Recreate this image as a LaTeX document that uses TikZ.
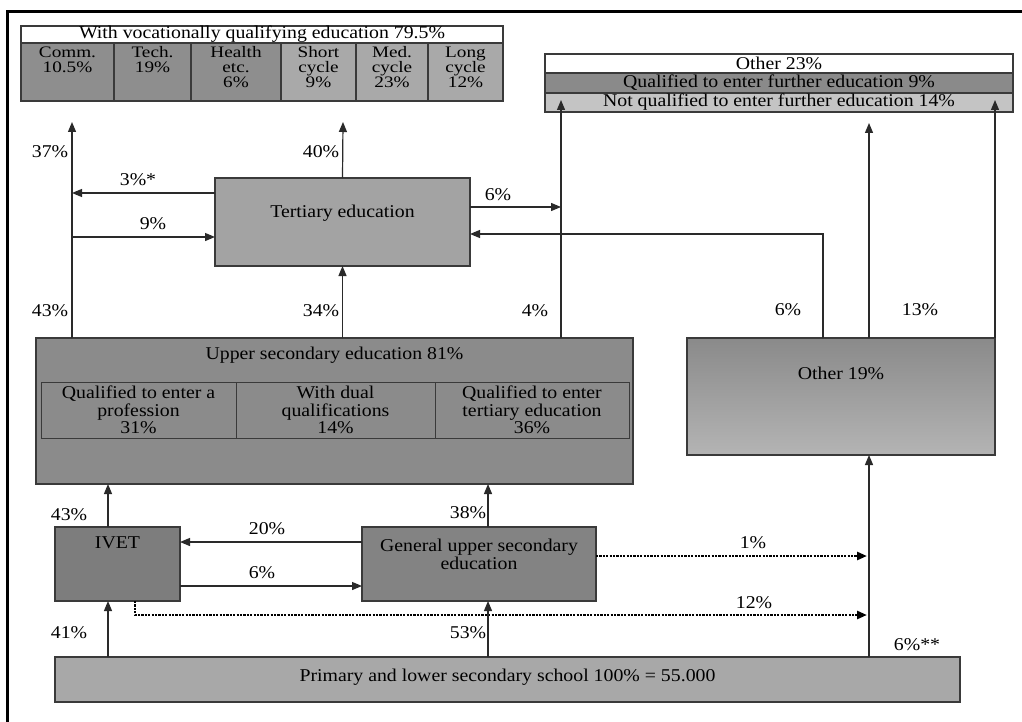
\documentclass[tikz,border=0pt]{standalone}
\usepackage{fontspec}
\setmainfont{Liberation Serif}[FakeStretch=1.1]
\newfontfamily\cellfam{Liberation Serif}[FakeStretch=1.2]
\usetikzlibrary{arrows.meta,calc}
\definecolor{lines}{HTML}{2A2A2A}
\definecolor{bline}{HTML}{3A3A3A}
\definecolor{cdark}{HTML}{8E8E8E}
\definecolor{clight}{HTML}{A9A9A9}
\definecolor{terf}{HTML}{A3A3A3}
\definecolor{uppf}{HTML}{8B8B8B}
\definecolor{othtop}{HTML}{8A8A8A}
\definecolor{othbot}{HTML}{B4B4B4}
\definecolor{ivetf}{HTML}{7D7D7D}
\definecolor{genf}{HTML}{838383}
\definecolor{primf}{HTML}{A8A8A8}
\definecolor{otwo}{HTML}{8A8A8A}
\definecolor{othree}{HTML}{C4C4C4}
\newcommand\mfont{\fontsize{18}{17.5}\selectfont}
\newcommand\ctxt[2]{\parbox[c][58pt][t]{#1}{\centering\cellfam\fontsize{16}{15}\selectfont\rule{0pt}{15pt}#2}}
\begin{document}
\begin{tikzpicture}[x=1pt,y=-1pt,
  box/.style={draw=bline, line width=1.3pt, inner sep=0pt, outer sep=0pt, anchor=north west, font=\mfont, text=black},
  arr/.style={draw=lines, line width=1.2pt, -{Triangle[length=10pt,width=8pt]}},
  dots/.style={draw=black, line width=2.6pt, dash pattern=on 2.2pt off 1.2pt},
  lbl/.style={font=\mfont, inner sep=0pt}]
\useasboundingbox (0,0) rectangle (1022,722);
\fill[white] (0,0) rectangle (1022,722);
\draw[line width=3pt, black] (7,722) -- (7,12) -- (1022,12);

% top-left table
\node[box, fill=white, minimum width=482pt, minimum height=17pt] (hdr) at (21,26) {With vocationally qualifying education 79.5\%};
\node[box, fill=cdark, minimum width=93pt, minimum height=58pt] (c1) at (21,43) {\ctxt{93pt}{Comm.\\10.5\%}};
\node[box, fill=cdark, minimum width=77pt, minimum height=58pt] (c2) at (114,43) {\ctxt{77pt}{Tech.\\19\%}};
\node[box, fill=cdark, minimum width=90pt, minimum height=58pt] (c3) at (191,43) {\ctxt{90pt}{Health\\etc.\\6\%}};
\node[box, fill=clight, minimum width=75pt, minimum height=58pt] (c4) at (281,43) {\ctxt{75pt}{Short\\cycle\\9\%}};
\node[box, fill=clight, minimum width=72pt, minimum height=58pt] (c5) at (356,43) {\ctxt{72pt}{Med.\\cycle\\23\%}};
\node[box, fill=clight, minimum width=75pt, minimum height=58pt] (c6) at (428,43) {\ctxt{75pt}{Long\\cycle\\12\%}};

% top-right table
\node[box, fill=white, minimum width=468pt, minimum height=19pt] (o1) at (545,54) {Other 23\%};
\node[box, fill=otwo, minimum width=468pt, minimum height=20pt] (o2) at (545,73) {Qualified to enter further education 9\%};
\node[box, fill=othree, minimum width=468pt, minimum height=19pt] (o3) at (545,93) {Not qualified to enter further education 14\%};

% tertiary
\node[box, fill=terf, minimum width=255pt, minimum height=88pt,
  label={[font=\mfont, yshift=9pt]center:Tertiary education}] (ter) at (215,178) {};

% upper secondary
\node[box, fill=uppf, minimum width=597pt, minimum height=146pt,
  label={[font=\mfont, anchor=center, yshift=-17pt]north:Upper secondary education 81\%}] (upp) at (36,338) {};
\node[box, line width=1pt, minimum width=195pt, minimum height=56pt, align=center] (u1) at (41,382) {Qualified to enter a\\profession\\31\%};
\node[box, line width=1pt, minimum width=199pt, minimum height=56pt, align=center] (u2) at (236,382) {With dual\\qualifications\\14\%};
\node[box, line width=1pt, minimum width=194pt, minimum height=56pt, align=center] (u3) at (435,382) {Qualified to enter\\tertiary education\\36\%};

% other
\node[box, top color=othtop, bottom color=othbot, minimum width=308pt, minimum height=117pt,
  label={[font=\mfont, yshift=23.5pt]center:Other 19\%}] (oth) at (687,338) {};

% IVET, general
\node[box, fill=ivetf, minimum width=125pt, minimum height=74pt,
  label={[font=\mfont, yshift=21pt]center:IVET}] (ivet) at (55,527) {};
\node[box, fill=genf, minimum width=234pt, minimum height=74pt,
  label={[font=\mfont, align=center, yshift=9.5pt]center:{General upper secondary\\education}}] (gen) at (362,527) {};

% primary
\node[box, fill=primf, minimum width=905pt, minimum height=45pt,
  label={[font=\mfont, yshift=2.5pt]center:Primary and lower secondary school 100\% = 55.000}] (prim) at (55,657) {};

% coordinates
\coordinate (tA) at (72,122);
\coordinate (tB) at (343,122);
\coordinate (tC) at (561,100);
\coordinate (tD) at (869,123);
\coordinate (tE) at (995,100);
\coordinate (j1) at (72,193);
\coordinate (j2) at (72,237);
\coordinate (j3) at (561,207);
\coordinate (j4) at (823,234);
\coordinate (xa) at (108,0);
\coordinate (xb) at (488,0);
\coordinate (xc) at (869,0);
\coordinate (ya) at (0,542);
\coordinate (yb) at (0,586);
\coordinate (d1) at (867,556);
\coordinate (d2) at (135,615);
\coordinate (d3) at (867,615);

% connectors
\draw[arr] (upp.north -| tA) -- (tA);
\draw[arr] (upp.north -| ter.south) -- (ter.south);
\draw[arr] (ter.north) -- (tB);
\draw[arr] (ter.west |- j1) -- (j1);
\draw[arr] (j2) -- (ter.west |- j2);
\draw[arr] (ter.east |- j3) -- (j3);
\draw[arr] (upp.north -| tC) -- (tC);
\draw[arr] (oth.north -| j4) -- (j4) -- (ter.east |- j4);
\draw[arr] (oth.north -| tD) -- (tD);
\draw[arr] (oth.north east) -- (tE);
\draw[arr] (ivet.north -| xa) -- (upp.south -| xa);
\draw[arr] (gen.north -| xb) -- (upp.south -| xb);
\draw[arr] (gen.west |- ya) -- (ivet.east |- ya);
\draw[arr] (ivet.east |- yb) -- (gen.west |- yb);
\draw[arr, dots] (gen.east |- d1) -- (d1);
\draw[arr, dots] (ivet.south -| d2) -- (d2) -- (d3);
\draw[arr] (prim.north -| xa) -- (ivet.south -| xa);
\draw[arr] (prim.north -| xb) -- (gen.south -| xb);
\draw[arr] (prim.north -| xc) -- (oth.south -| xc);

% percentage labels
\node[lbl] (p37) at (50,152) {37\%};
\node[lbl] (p40) at (321,152) {40\%};
\node[lbl] (p3s) at (138,180) {3\%*};
\node[lbl] (p9) at (153,224) {9\%};
\node[lbl] (p6a) at (498,195) {6\%};
\node[lbl] (p43a) at (50,311) {43\%};
\node[lbl] (p34) at (321,311) {34\%};
\node[lbl] (p4) at (535,311) {4\%};
\node[lbl] (p6b) at (788,310) {6\%};
\node[lbl] (p13) at (920,310) {13\%};
\node[lbl] (p43b) at (69,515) {43\%};
\node[lbl] (p38) at (468,513) {38\%};
\node[lbl] (p20) at (267,529) {20\%};
\node[lbl] (p6c) at (262,573) {6\%};
\node[lbl] (p1) at (753,543) {1\%};
\node[lbl] (p12) at (754,603) {12\%};
\node[lbl] (p41) at (69,633) {41\%};
\node[lbl] (p53) at (468,633) {53\%};
\node[lbl] (p6d) at (917,645) {6\%**};
\end{tikzpicture}
\end{document}
